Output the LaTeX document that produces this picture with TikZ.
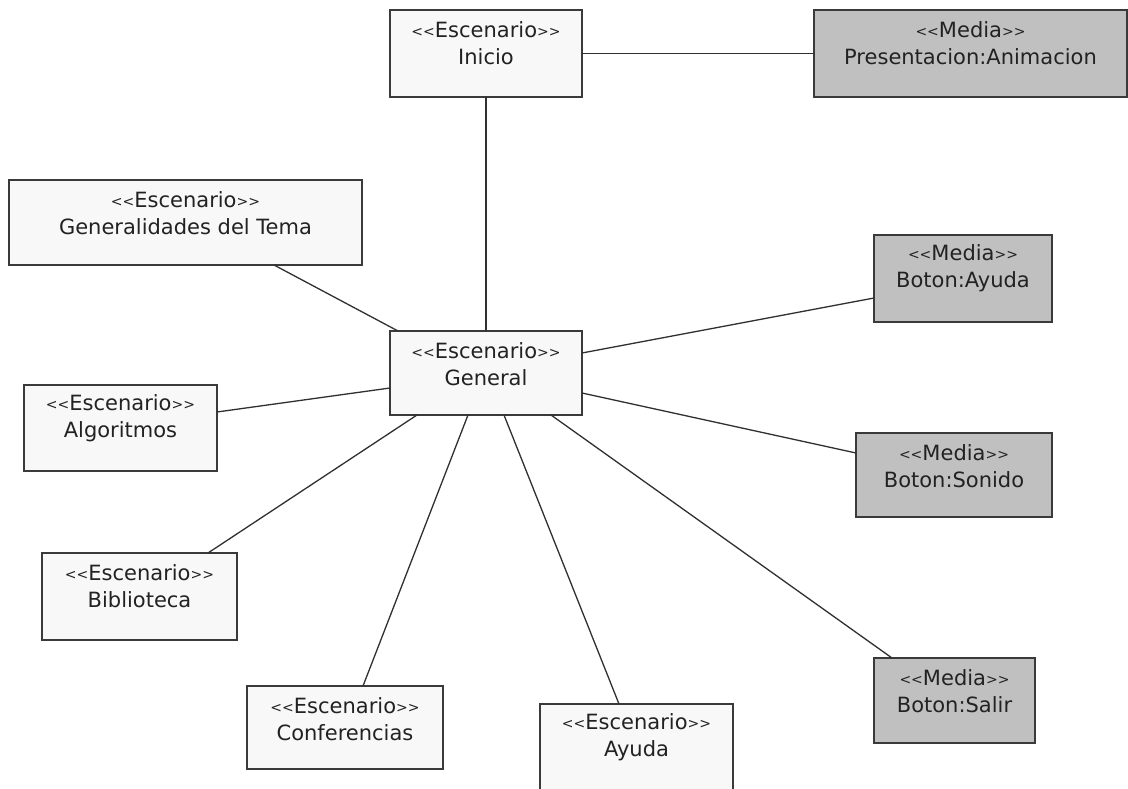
\documentclass[tikz,border=0pt]{standalone}
\usepackage{fontspec}
\setmainfont{DejaVu Sans}
\definecolor{boxline}{HTML}{3A3A3A}
\definecolor{wirecol}{HTML}{303030}
\definecolor{mediafill}{HTML}{C0C0C0}
\definecolor{scenefill}{HTML}{F8F8F8}
\definecolor{inkcol}{HTML}{222222}
% small stereotype chevrons, kept as two separate characters
\newcommand\lchv{{\fontsize{14}{14}\selectfont\raisebox{1pt}{\symbol{60}\symbol{60}}}}
\newcommand\rchv{{\fontsize{14}{14}\selectfont\raisebox{1pt}{\symbol{62}\symbol{62}}}}
\tikzset{
  umlbox/.style={draw=boxline, line width=1.8pt, rectangle, inner sep=0pt, outer sep=0pt, anchor=north west},
  scene/.style={umlbox, fill=scenefill},
  media/.style={umlbox, fill=mediafill},
  lbl/.style={align=center, text=inkcol, inner sep=0pt, font=\fontsize{21}{27}\selectfont},
  wire/.style={draw=wirecol, line width=1.3pt}
}
% box: name, left, top, width, height, style, text
\newcommand\umlnode[7]{%
  \node[#6, minimum width=#4pt, minimum height=#5pt] (#1) at (#2,#3) {};
  \node[lbl] (#1-t) at ([yshift=-33.5pt]#1.north) {#7};
}
\begin{document}
\begin{tikzpicture}[x=1pt,y=-1pt]
\useasboundingbox (0,0) rectangle (1128,789);
\fill[white] (0,0) rectangle (1128,789);

\umlnode{inicio}{390}{10}{192}{87}{scene}{\lchv Escenario\rchv\\Inicio}
\umlnode{pres}{814}{10}{313}{87}{media}{\lchv Media\rchv\\Presentacion:Animacion}
\umlnode{tema}{9}{180}{353}{85}{scene}{\lchv Escenario\rchv\\Generalidades del Tema}
\umlnode{general}{390}{331}{192}{84}{scene}{\lchv Escenario\rchv\\General}
\umlnode{algo}{24}{385}{193}{86}{scene}{\lchv Escenario\rchv\\Algoritmos}
\umlnode{biblio}{42}{553}{195}{87}{scene}{\lchv Escenario\rchv\\Biblioteca}
\umlnode{confer}{247}{686}{196}{83}{scene}{\lchv Escenario\rchv\\Conferencias}
\umlnode{ayuda}{540}{704}{193}{100}{scene}{\lchv Escenario\rchv\\Ayuda}
\umlnode{bayuda}{874}{235}{178}{87}{media}{\lchv Media\rchv\\Boton:Ayuda}
\umlnode{bsonido}{856}{433}{196}{84}{media}{\lchv Media\rchv\\Boton:Sonido}
\umlnode{bsalir}{874}{658}{161}{85}{media}{\lchv Media\rchv\\Boton:Salir}

\draw[wire] (inicio.east) -- (pres.west);
\draw[wire] (inicio.south) -- (general.north);
\draw[wire] ([xshift=265pt]tema.south west) -- ([xshift=8pt]general.north west);
\draw[wire] ([yshift=-27pt]algo.north east) -- ([yshift=-57pt]general.north west);
\draw[wire] ([xshift=166pt]biblio.north west) -- ([xshift=27pt]general.south west);
\draw[wire] ([xshift=116pt]confer.north west) -- ([xshift=78pt]general.south west);
\draw[wire] ([xshift=79pt]ayuda.north west) -- ([xshift=114pt]general.south west);
\draw[wire] ([xshift=18pt]bsalir.north west) -- ([xshift=161pt]general.south west);
\draw[wire] ([yshift=-20pt]bsonido.north west) -- ([yshift=-62pt]general.north east);
\draw[wire] ([yshift=-63pt]bayuda.north west) -- ([yshift=-22pt]general.north east);
\end{tikzpicture}
\end{document}
